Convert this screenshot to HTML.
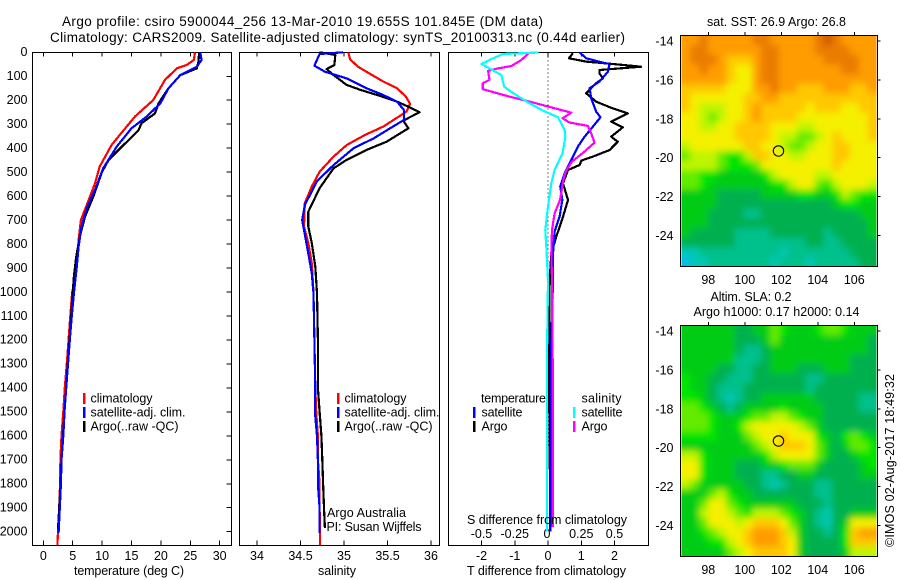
<!DOCTYPE html>
<html lang="en">
<head>
<meta charset="utf-8">
<title>Argo profile csiro 5900044_256</title>
<style>
  html, body { margin: 0; padding: 0; background: #fff; }
  svg { display: block; }
  text { font-family: "Liberation Sans", sans-serif; font-size: 12.5px; fill: #000; }
  .ttl { font-size: 13.5px; }
</style>
</head>
<body>
<svg id="chart" xmlns="http://www.w3.org/2000/svg" width="900" height="580" viewBox="0 0 900 580">
  <defs>
    <filter id="smooth" x="-5%" y="-5%" width="110%" height="110%"><feGaussianBlur stdDeviation="3.4"/></filter>
    <clipPath id="clipMap1"><rect x="681.5" y="35.5" width="195" height="231"/></clipPath>
    <clipPath id="clipMap2"><rect x="681.5" y="325.5" width="195" height="231"/></clipPath>
  </defs>
  <rect x="0" y="0" width="900" height="580" fill="#fff"/>

  <text class="ttl" x="62" y="26" textLength="481" lengthAdjust="spacing">Argo profile: csiro 5900044_256 13-Mar-2010 19.655S 101.845E (DM data)</text>
  <text class="ttl" x="50" y="42" textLength="575" lengthAdjust="spacing">Climatology: CARS2009. Satellite-adjusted climatology: synTS_20100313.nc (0.44d earlier)</text>

  <g id="layerPanels"></g>
  <g id="layerMaps"></g>

  <g>
    <rect x="83" y="393" width="2.5" height="11" fill="#ff0000"/>
    <rect x="83" y="407" width="2.5" height="11" fill="#0000ff"/>
    <rect x="83" y="421" width="2.5" height="11" fill="#000"/>
    <text x="90.5" y="402.5" textLength="62" lengthAdjust="spacing">climatology</text>
    <text x="90.5" y="416.5" textLength="95" lengthAdjust="spacing">satellite-adj. clim.</text>
    <text x="90.5" y="430.5" textLength="88" lengthAdjust="spacing">Argo(..raw -QC)</text>
  </g>
  <g>
    <rect x="337" y="393" width="2.5" height="11" fill="#ff0000"/>
    <rect x="337" y="407" width="2.5" height="11" fill="#0000ff"/>
    <rect x="337" y="421" width="2.5" height="11" fill="#000"/>
    <text x="344.5" y="402.5" textLength="62" lengthAdjust="spacing">climatology</text>
    <text x="344.5" y="416.5" textLength="95" lengthAdjust="spacing">satellite-adj. clim.</text>
    <text x="344.5" y="430.5" textLength="88" lengthAdjust="spacing">Argo(..raw -QC)</text>
  </g>
  <text x="327" y="517" textLength="79" lengthAdjust="spacing">Argo Australia</text>
  <text x="326.5" y="531" textLength="95" lengthAdjust="spacing">PI: Susan Wijffels</text>

  <g>
    <text x="481" y="402.5" textLength="65" lengthAdjust="spacing">temperature</text>
    <text x="581.5" y="402.5" textLength="40" lengthAdjust="spacing">salinity</text>
    <rect x="473" y="407" width="2.5" height="11" fill="#0000ff"/>
    <rect x="473" y="421" width="2.5" height="11" fill="#000"/>
    <rect x="573" y="407" width="2.5" height="11" fill="#00ffff"/>
    <rect x="573" y="421" width="2.5" height="11" fill="#ff00ff"/>
    <text x="481.5" y="416.5" textLength="41" lengthAdjust="spacing">satellite</text>
    <text x="481.5" y="430.5" textLength="26" lengthAdjust="spacing">Argo</text>
    <text x="581.5" y="416.5" textLength="41" lengthAdjust="spacing">satellite</text>
    <text x="581.5" y="430.5" textLength="26" lengthAdjust="spacing">Argo</text>
  </g>

  <text x="74" y="575" textLength="110" lengthAdjust="spacing">temperature (deg C)</text>
  <text x="318" y="575" textLength="38" lengthAdjust="spacing">salinity</text>
  <text x="467" y="575" textLength="159" lengthAdjust="spacing">T difference from climatology</text>
  <text x="467" y="524" textLength="160" lengthAdjust="spacing">S difference from climatology</text>

  <text x="707" y="26" textLength="139" lengthAdjust="spacing">sat. SST: 26.9 Argo: 26.8</text>
  <text x="710.5" y="301" textLength="81" lengthAdjust="spacing">Altim. SLA: 0.2</text>
  <text x="693.5" y="316" textLength="166" lengthAdjust="spacing">Argo h1000: 0.17 h2000: 0.14</text>
  <text transform="translate(894 547) rotate(-90)" x="0" y="0" textLength="173" lengthAdjust="spacing">©IMOS 02-Aug-2017 18:49:32</text>
</svg>

<script>
// ---------- profile data (depth in m) ----------
const depthTicks = [0,100,200,300,400,500,600,700,800,900,1000,1100,1200,1300,1400,1500,1600,1700,1800,1900,2000];
const tempTicks = [0,5,10,15,20,25,30];
const salTickValues = [34,34.5,35,35.5,36];
const salTickLabels = ['34','34.5','35','35.5','36'];
const tDiffTicks = [-2,-1,0,1,2];
const sDiffTickValues = [-0.5,-0.25,0,0.25,0.5];
const sDiffTickLabels = ['-0.5','-0.25','0','0.25','0.5'];

const tempClimDepth = [0,32,53,67,115,199,268,345,387,477,547,630,700,783,866,936,1005,1100,1200,1300,1400,1500,1600,1700,1800,1900,2000,2057];
const tempClim = [25.8,25.6,24.4,22.7,20.7,18.7,15.6,13.0,11.6,9.6,8.8,7.5,6.4,6.0,5.8,5.4,4.9,4.6,4.3,4.0,3.65,3.4,3.1,2.9,2.85,2.7,2.5,2.4];
const tempArgoDepth = [0,39,67,95,150,213,255,296,324,366,407,449,498,602,686,769,853,936,1005,1100,1200,1300,1400,1500,1600,1700,1800,1900,1990];
const tempArgo = [26.5,26.4,26.1,23.3,21.3,19.6,19.0,16.7,16.2,14.5,12.8,11.1,10.0,8.5,7.1,6.2,5.6,5.2,5.0,4.75,4.45,4.15,3.9,3.6,3.35,3.1,2.95,2.7,2.5];
const tempSatDepth = [0,32,60,95,150,213,268,317,393,483,574,643,727,810,894,1005,1100,1200,1300,1400,1500,1600,1700,1800,1900,2005];
const tempSat = [26.7,26.9,26.1,23.3,21.3,19.9,17.6,15.0,12.5,10.2,8.8,7.5,6.5,6.0,5.7,5.2,4.85,4.5,4.2,3.9,3.6,3.4,3.1,3.0,2.8,2.6];

const salClimDepth = [0,29,60,90,122,150,185,215,247,261,310,345,387,435,498,560,630,727,796,880,1005,1200,1400,1500,1600,1700,1800,1900,2057];
const salClim = [35.05,35.07,35.16,35.30,35.45,35.61,35.71,35.76,35.72,35.66,35.45,35.24,35.03,34.88,34.72,34.63,34.55,34.54,34.59,34.63,34.65,34.66,34.67,34.68,34.70,34.70,34.72,34.72,34.725];
const salArgoDepth = [0,11,53,70,95,136,157,178,206,227,250,285,317,373,407,449,484,567,665,727,796,894,1005,1200,1400,1500,1600,1700,1800,1900,1985];
const salArgo = [34.72,34.90,34.89,34.80,34.88,35.03,35.19,35.38,35.61,35.74,35.87,35.68,35.74,35.49,35.26,35.03,34.88,34.72,34.59,34.59,34.63,34.67,34.69,34.70,34.70,34.72,34.74,34.75,34.76,34.77,34.78];
const salSatDepth = [0,7,56,81,109,150,178,206,241,282,317,359,400,470,538,637,700,741,839,922,1005,1200,1400,1500,1600,1700,1800,1900,2005];
const salSat = [34.99,34.72,34.66,34.78,35.03,35.26,35.45,35.61,35.69,35.69,35.53,35.34,35.11,34.88,34.69,34.55,34.52,34.54,34.59,34.63,34.65,34.66,34.67,34.665,34.69,34.70,34.70,34.72,34.72];

const diffTSatDepth = [1,25,43,49,81,122,150,192,248,271,310,352,393,449,505,560,616,686,748,839,950,1300,1700,2000];
const diffTSat = [0.95,1.15,1.65,1.85,1.8,1.55,1.25,1.3,1.45,1.58,1.35,1.1,0.9,0.7,0.5,0.37,0.43,0.35,0.2,0.15,0.15,0.08,0.07,0.07];
const diffTArgoDepth = [4,25,39,49,60,74,88,109,129,171,206,234,255,289,313,352,373,408,435,452,470,491,547,616,686,769,839,950,1300,1700,1950];
const diffTArgo = [0.75,0.63,1.15,1.95,2.8,1.55,1.55,1.65,1.45,1.15,1.45,1.95,2.4,1.9,2.25,1.9,2.1,1.85,1.35,1.0,0.95,0.6,0.45,0.6,0.45,0.25,0.1,0.05,0.03,0.05,0.08];
const diffSSatDepth = [1,7,32,49,67,95,143,164,206,243,271,324,352,421,491,547,644,741,839,950,1300,1700,2000];
const diffSSat = [-0.07,-0.34,-0.44,-0.5,-0.44,-0.35,-0.33,-0.28,-0.16,-0.04,0.075,0.125,0.13,0.11,0.05,0.025,0,-0.02,-0.01,0,-0.008,-0.008,-0.008];
const diffSArgoDepth = [1,32,57,67,77,115,129,154,182,210,252,275,293,307,338,377,421,456,491,519,616,672,741,839,950,1300,1700,1980];
const diffSArgo = [-0.14,-0.2,-0.275,-0.375,-0.45,-0.44,-0.49,-0.49,-0.31,-0.11,0.175,0.11,0.16,0.3,0.325,0.35,0.26,0.18,0.14,0.12,0.09,0.05,0.03,0.025,0.03,0.035,0.035,0.035];

// ---------- map data: colour-scale levels on a ~0.5 degree grid ----------
const mapLonTicks = [98,100,102,104,106];
const mapLatTicks = [-14,-16,-18,-20,-22,-24];
const argoLon = [101.845];
const argoLat = [-19.655];
const sstLevels = [
[10,10,11,10,10,10,10,10,11,11,10,10,10,10,10,11,12,11,10,10,10,10],
[10,11,11,10,10,10,10,10,10,11,11,10,10,10,10,11,11,11,11,10,10,10],
[10,11,11,11,10,9,9,9,10,11,11,10,10,10,10,10,11,11,11,11,10,10],
[10,10,11,10,10,9,8,8,10,11,11,10,10,10,10,10,10,10,11,11,10,10],
[10,10,10,10,10,9,8,8,10,11,11,10,10,10,10,10,10,10,10,10,10,10],
[9,9,9,9,9,8,8,8,10,10,11,10,10,9,9,9,10,10,10,9,9,10],
[9,8,8,8,8,8,8,9,9,10,10,9,9,9,9,9,9,9,9,9,9,9],
[9,8,7,7,7,8,8,9,10,9,9,9,9,9,8,9,9,9,8,8,9,9],
[8,8,7,6,7,8,8,9,10,9,9,9,9,8,8,8,8,8,8,8,8,9],
[8,8,7,7,8,8,9,9,9,9,8,8,8,7,7,8,8,8,8,8,8,9],
[8,8,8,8,8,8,9,9,9,9,8,7,7,6,6,7,8,9,8,8,8,9],
[7,8,8,8,8,8,8,9,9,8,8,7,6,6,7,8,8,9,9,8,8,8],
[6,7,7,7,6,5,5,7,9,9,8,8,7,7,8,8,8,9,9,8,8,8],
[7,7,7,7,6,5,5,5,6,8,8,8,8,8,8,8,8,9,8,8,8,8],
[6,6,5,5,4,4,4,4,4,5,7,8,8,8,8,7,7,8,8,8,8,8],
[6,6,5,4,4,4,4,4,4,4,5,5,7,8,8,6,5,7,8,8,8,7],
[4,4,4,4,3,3,3,3,3,4,4,4,4,5,5,4,4,5,7,6,5,5],
[4,4,4,4,3,3,3,3,3,3,3,3,3,3,3,3,3,4,5,5,4,4],
[4,4,4,3,3,3,3,2,2,3,3,3,3,3,3,3,3,3,3,3,4,4],
[4,4,4,3,3,3,3,3,3,3,3,3,3,3,3,3,3,3,3,3,3,4],
[4,3,3,3,3,3,2,2,2,2,3,3,3,3,3,3,2,3,3,3,3,4],
[3,3,3,3,3,3,2,2,2,2,2,2,2,2,3,3,2,2,3,3,3,3],
[1,1,2,2,2,2,2,2,2,2,2,1,2,2,2,2,2,2,2,3,3,3],
[0,1,1,2,2,2,2,2,2,2,1,2,2,2,1,2,2,2,2,2,3,3]
];
const slaLevels = [
[4,4,4,4,4,4,3,3,4,4,6,5,4,4,4,5,6,6,5,4,4,4],
[4,4,4,4,4,4,3,3,3,4,6,4,4,4,4,4,4,4,4,4,4,3],
[4,4,4,4,4,4,3,2,2,3,4,4,4,4,4,4,4,4,4,4,4,3],
[4,4,4,4,4,4,2,2,2,3,4,4,4,4,4,4,4,4,4,3,3,3],
[4,4,4,4,3,3,2,2,3,3,4,4,4,3,3,3,4,4,4,3,3,3],
[5,4,4,3,3,2,2,2,3,3,3,3,3,3,2,2,3,3,3,3,3,3],
[5,4,4,3,2,2,2,3,3,3,3,3,3,3,2,3,3,3,3,3,3,3],
[5,5,4,3,2,1,2,3,3,4,4,4,4,4,4,3,3,3,3,3,2,2],
[6,6,5,4,3,2,3,4,4,4,4,5,4,4,4,4,3,3,3,3,2,2],
[6,6,6,5,4,4,4,5,6,6,7,7,6,5,4,4,3,3,3,3,3,3],
[6,6,6,5,4,4,5,7,8,8,8,8,8,7,6,4,3,3,3,3,3,3],
[5,5,5,5,4,4,4,6,7,8,8,9,8,8,8,5,4,3,5,6,5,4],
[4,4,4,4,4,4,4,4,6,7,8,9,9,9,8,6,4,3,4,6,6,5],
[7,7,5,4,4,4,4,4,4,5,7,8,8,8,8,6,4,3,3,4,5,5],
[8,8,5,4,4,4,3,3,3,4,4,5,6,6,6,4,3,3,3,3,4,5],
[8,8,5,4,4,4,3,3,3,2,2,3,3,4,4,3,3,3,3,3,4,4],
[7,6,4,4,4,4,4,3,3,2,1,2,3,3,3,2,2,3,3,3,3,3],
[4,4,4,6,7,5,4,4,3,3,3,3,3,3,3,2,2,3,3,3,3,3],
[4,4,6,8,8,6,5,4,4,4,4,4,4,3,3,3,2,3,3,3,3,3],
[4,4,7,8,8,7,6,5,7,7,7,6,5,4,3,2,1,3,3,4,4,4],
[4,4,6,8,8,8,7,8,9,9,9,8,6,4,3,2,1,3,4,8,8,8],
[4,4,5,6,7,8,8,9,10,10,10,9,7,4,3,3,2,3,5,9,10,10],
[4,4,4,5,5,7,8,9,10,10,10,9,8,4,3,3,3,3,5,9,9,9],
[4,4,4,4,4,6,7,8,9,9,9,9,8,4,3,3,3,3,4,7,7,7]
];
const levelColors = ['#00bee6','#00c8b4','#00c08c','#00b050','#00cc18','#00e600','#64eb00','#bef500','#f5f000','#ffc800','#ff9c00','#ea7c00','#d05a00'];

// ---------- axis functions ----------
const NS = 'http://www.w3.org/2000/svg';
const PT = 52.3, PB = 545.3;
const yDepth = d => PT + 0.2397 * d;
const xTemp = t => 43.3 + 5.88 * t;
const xSal = s => 257 + 87 * (s - 34);
const xTDiff = t => 548 + 33.25 * t;
const xSDiff = s => 548 + 133 * s;
const xLon = lon => 708.3 + 18.25 * (lon - 98);
const yLat = (lat, top) => top + 41 + 19.45 * (-14 - lat);

function mk(parent, tag, attrs, txt) {
  const el = document.createElementNS(NS, tag);
  for (const k in attrs) el.setAttribute(k, attrs[k]);
  if (txt !== undefined) el.textContent = txt;
  parent.appendChild(el);
  return el;
}
const panels = document.getElementById('layerPanels');
const maps = document.getElementById('layerMaps');

function tick(parent, x1, y1, x2, y2, name) {
  const el = mk(parent, 'line', {x1: x1, y1: y1, x2: x2, y2: y2, stroke: '#000', 'stroke-width': 1, 'shape-rendering': 'crispEdges'});
  
  
}
function label(parent, x, y, anchor, s, name) {
  const el = mk(parent, 'text', {x: x, y: y, 'text-anchor': anchor}, s);
  
  
}
function frame(parent, x, y, w, h, name) {
  const el = mk(parent, 'rect', {x: x, y: y, width: w, height: h, fill: 'none', stroke: '#000', 'stroke-width': 1.4, 'shape-rendering': 'crispEdges'});
  
  
}
function profile(parent, xs, ds, xFn, color, name) {
  const pts = xs.map((v, i) => xFn(v).toFixed(1) + ',' + yDepth(ds[i]).toFixed(1)).join(' ');
  const el = mk(parent, 'polyline', {points: pts, fill: 'none', stroke: color, 'stroke-width': 2.2, 'stroke-linejoin': 'round', 'shape-rendering': 'crispEdges'});
  
  
}

// ---------- panel frames ----------
frame(panels, 32.5, 52.5, 199, 493, 'temperature-panel-frame');
frame(panels, 239.5, 52.5, 200, 493, 'salinity-panel-frame');
frame(panels, 448.5, 52.5, 200, 493, 'difference-panel-frame');

// ---------- depth axis ----------
depthTicks.forEach(d => {
  label(panels, 27.5, yDepth(d) + 3.8, 'end', String(d), 'depth-tick-label');
  tick(panels, 226.5, yDepth(d), 231.5, yDepth(d), 'depth-tick');
});

// ---------- temperature axis ----------
tempTicks.forEach(t => {
  label(panels, xTemp(t), 560, 'middle', String(t), 'temperature-tick-label');
  tick(panels, xTemp(t), 540.5, xTemp(t), 545.5, 'temperature-tick-bottom');
  tick(panels, xTemp(t), 52.5, xTemp(t), 56.5, 'temperature-tick-top');
});

// ---------- salinity axis ----------
salTickValues.forEach((s, i) => {
  label(panels, xSal(s), 560, 'middle', salTickLabels[i], 'salinity-tick-label');
  tick(panels, xSal(s), 540.5, xSal(s), 545.5, 'salinity-tick-bottom');
  tick(panels, xSal(s), 52.5, xSal(s), 56.5, 'salinity-tick-top');
});

// ---------- difference axes ----------
tDiffTicks.forEach(t => {
  label(panels, xTDiff(t), 560, 'middle', String(t), 't-difference-tick-label');
  tick(panels, xTDiff(t), 540.5, xTDiff(t), 545.5, 't-difference-tick-bottom');
  tick(panels, xTDiff(t), 52.5, xTDiff(t), 56.5, 't-difference-tick-top');
});
sDiffTickValues.forEach((s, i) => {
  label(panels, xSDiff(s) - (s === 0 ? 1 : 0), 538, 'middle', sDiffTickLabels[i], 's-difference-tick-label');
});

// ---------- zero reference ----------
const zeroLine = mk(panels, 'line', {x1: xTDiff(0), y1: PT, x2: xTDiff(0), y2: yDepth(1650), stroke: '#000', 'stroke-width': 1, 'stroke-dasharray': '1 3', 'shape-rendering': 'crispEdges'});



// ---------- series ----------
profile(panels, tempClim, tempClimDepth, xTemp, '#ff0000', 'temperature-climatology-line');
profile(panels, tempArgo, tempArgoDepth, xTemp, '#000000', 'temperature-argo-line');
profile(panels, tempSat, tempSatDepth, xTemp, '#0000ff', 'temperature-satellite-line');

profile(panels, salClim, salClimDepth, xSal, '#ff0000', 'salinity-climatology-line');
profile(panels, salArgo, salArgoDepth, xSal, '#000000', 'salinity-argo-line');
profile(panels, salSat, salSatDepth, xSal, '#0000ff', 'salinity-satellite-line');

profile(panels, diffTArgo, diffTArgoDepth, xTDiff, '#000000', 't-difference-argo-line');
profile(panels, diffTSat, diffTSatDepth, xTDiff, '#0000ff', 't-difference-satellite-line');
profile(panels, diffSArgo, diffSArgoDepth, xSDiff, '#ff00ff', 's-difference-argo-line');
profile(panels, diffSSat, diffSSatDepth, xSDiff, '#00ffff', 's-difference-satellite-line');

// ---------- maps ----------
function drawMap(levels, top, clipId, name) {
  const clip = mk(maps, 'g', {'clip-path': 'url(#' + clipId + ')'});
  
  
  const blur = mk(clip, 'g', {filter: 'url(#smooth)'});
  
  
  const nr = levels.length, nc = levels[0].length;
  const x0 = 681.5, y0 = top + 35.5, cw = 195 / nc, ch = 231 / nr;
  levels.forEach((row, r) => {
    row.forEach((v, c) => {
      // boundary cells overhang the clip so smoothing does not fade the edges
      const ex0 = c === 0 ? 14 : 0, ex1 = c === nc - 1 ? 14 : 0;
      const ey0 = r === 0 ? 14 : 0, ey1 = r === nr - 1 ? 14 : 0;
      const cell = mk(blur, 'rect', {
        x: x0 + c * cw - ex0,
        y: y0 + r * ch - ey0,
        width: cw + 0.6 + ex0 + ex1,
        height: ch + 0.6 + ey0 + ey1,
        fill: levelColors[v]
      });
      
      
    });
  });
  frame(maps, 680.5, top + 35.5, 197, 231, name + '-frame');
  mapLonTicks.forEach(lon => {
    tick(maps, xLon(lon), top + 32, xLon(lon), top + 35, name + '-lon-tick');
    label(maps, xLon(lon), top + 284, 'middle', String(lon), name + '-lon-label');
  });
  mapLatTicks.forEach(lat => {
    tick(maps, 877.5, yLat(lat, top), 880.5, yLat(lat, top), name + '-lat-tick');
    label(maps, 673.5, yLat(lat, top) + 4.5, 'end', String(lat), name + '-lat-label');
  });
  argoLon.forEach((lon, i) => {
    const c = mk(maps, 'circle', {cx: xLon(lon), cy: yLat(argoLat[i], top), r: 5.2, fill: 'none', stroke: '#000', 'stroke-width': 1.1});
    
    
  });
}
drawMap(sstLevels, 0, 'clipMap1', 'sst-map');
drawMap(slaLevels, 290, 'clipMap2', 'sla-map');
</script>
</body>
</html>
